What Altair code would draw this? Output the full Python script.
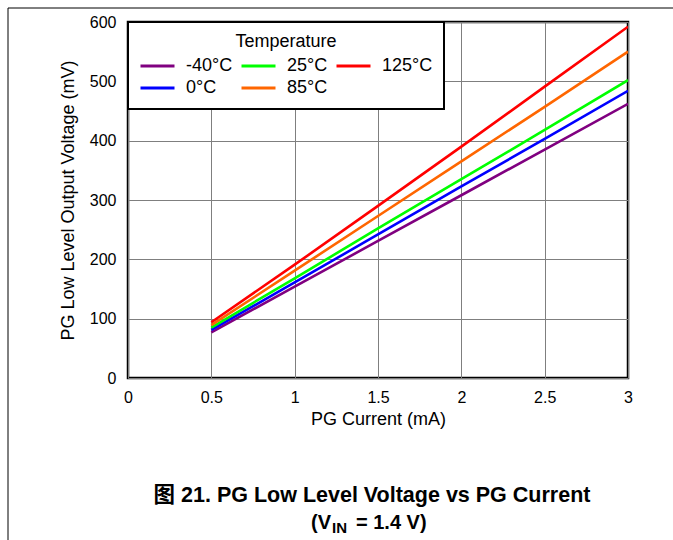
import altair as alt
import pandas as pd

# PG low-level output voltage (mV) vs PG sink current (mA), per temperature
current_ma = [0.5, 1.0, 1.5, 2.0, 2.5, 3.0]
v_m40 = [77, 154, 231, 308, 385, 462]
v_0 = [81, 161, 242, 323, 403, 484]
v_25 = [85, 168, 252, 335, 418, 502]
v_85 = [89, 181, 273, 365, 457, 550]
v_125 = [94, 191, 290, 390, 491, 592]

# legend order is row-major in three columns: -40, 25, 125 / 0, 85
temps = ["-40°C", "25°C", "125°C", "0°C", "85°C"]
colors = ["#800080", "#00ff00", "#ff0000", "#0000ff", "#ff6600"]
series = {"-40°C": v_m40, "0°C": v_0, "25°C": v_25, "85°C": v_85, "125°C": v_125}

x_ticks = [0, 0.5, 1, 1.5, 2, 2.5, 3]
y_ticks = [0, 100, 200, 300, 400, 500, 600]

rows = []
for t in ["-40°C", "0°C", "25°C", "85°C", "125°C"]:
    for c, v in zip(current_ma, series[t]):
        rows.append({"Temperature": t, "current": c, "voltage": v})
df = pd.DataFrame(rows)

FONT = "Liberation Sans"
W, H = 500, 356

lines = alt.Chart(df).mark_line(strokeWidth=2.6, clip=True).encode(
    x=alt.X("current:Q", title="PG Current (mA)",
            scale=alt.Scale(domain=[0, 3], nice=False, zero=False),
            axis=alt.Axis(values=x_ticks, labelExpr="datum.value",
                          labelFlush=False, labelPadding=11, titlePadding=5)),
    y=alt.Y("voltage:Q", title="PG Low Level Output Voltage (mV)",
            scale=alt.Scale(domain=[0, 600], nice=False),
            axis=alt.Axis(values=y_ticks, labelFlush=False,
                          labelPadding=12, titlePadding=12)),
    color=alt.Color("Temperature:N",
                    scale=alt.Scale(domain=temps, range=colors),
                    legend=alt.Legend(
                        title="Temperature", orient="none", legendX=0, legendY=0,
                        columns=3, direction="horizontal",
                        symbolType="stroke", symbolSize=1156, symbolStrokeWidth=3,
                        clipHeight=20, rowPadding=2, columnPadding=7,
                        labelOffset=10, padding=11,
                        titleAnchor="middle", titlePadding=5,
                        strokeColor="black", fillColor="white",
                    )),
    detail="Temperature:N",
)

# page frame: top rule and left rule
frame_df = pd.DataFrame({"k": [0]})
top_rule = alt.Chart(frame_df).mark_rule(color="black", strokeWidth=1).encode(
    x=alt.value(-120), x2=alt.value(545), y=alt.value(-14))
left_rule = alt.Chart(frame_df).mark_rule(color="black", strokeWidth=1).encode(
    x=alt.value(-120), y=alt.value(-14), y2=alt.value(518))

# figure caption
cap_font = [FONT, "Noto Sans CJK SC"]
cap1 = alt.Chart(frame_df).mark_text(
    text="图 21. PG Low Level Voltage vs PG Current", font=", ".join(cap_font),
    fontSize=21.5, fontWeight="bold", align="center", baseline="alphabetic",
    color="black").encode(x=alt.value(244), y=alt.value(480))
cap2a = alt.Chart(frame_df).mark_text(
    text="(V", font=FONT, fontSize=20, fontWeight="bold", align="left",
    baseline="alphabetic", color="black").encode(x=alt.value(183), y=alt.value(507))
cap2b = alt.Chart(frame_df).mark_text(
    text="IN", font=FONT, fontSize=15, fontWeight="bold", align="left",
    baseline="alphabetic", color="black").encode(x=alt.value(204), y=alt.value(511))
cap2c = alt.Chart(frame_df).mark_text(
    text="= 1.4 V)", font=FONT, fontSize=20, fontWeight="bold", align="left",
    baseline="alphabetic", color="black").encode(x=alt.value(228), y=alt.value(507))

chart = alt.layer(lines, top_rule, left_rule, cap1, cap2a, cap2b, cap2c).properties(
    width=W, height=H,
    autosize=alt.AutoSizeParams(type="none"),
    padding={"left": 128, "top": 22, "right": 45, "bottom": 162},
    background="white",
).configure_view(
    stroke="black", strokeWidth=2.5,
).configure_axis(
    domain=False, ticks=False, grid=True, gridColor="#7f7f7f", gridWidth=1,
    labelFont=FONT, labelFontSize=16, labelColor="black",
    titleFont=FONT, titleFontSize=18, titleFontWeight="normal", titleColor="black",
).configure_legend(
    labelFont=FONT, labelFontSize=18, labelColor="black",
    titleFont=FONT, titleFontSize=18, titleFontWeight="normal", titleColor="black",
    strokeWidth=2,
)

chart.save("out.html", embed_options={"renderer": "svg", "actions": False})
